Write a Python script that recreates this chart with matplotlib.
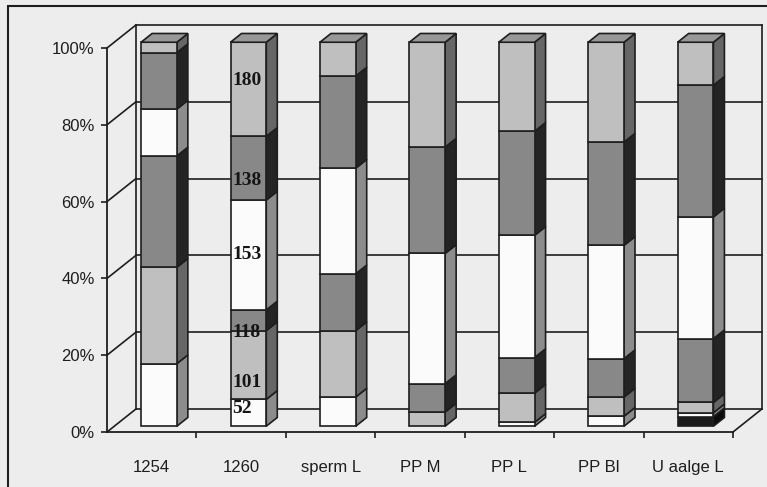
import matplotlib.pyplot as plt
from matplotlib.patches import Polygon, Rectangle

# categories and stacked percentages (bottom -> top)
categories = ["1254", "1260", "sperm L", "PP M", "PP L", "PP Bl", "U aalge L"]
s_black = [0, 0, 0, 0, 0, 0, 2.5]
s52 = [16.3, 7.0, 7.6, 0, 1.0, 2.6, 1.0]
s101 = [25.1, 17.9, 17.3, 3.7, 7.6, 5.0, 2.7]
s118 = [29.0, 5.4, 14.8, 7.4, 9.3, 10.0, 16.6]
s153 = [12.2, 28.6, 27.5, 33.9, 31.8, 29.5, 31.7]
s138 = [14.7, 16.6, 24.0, 27.7, 27.1, 26.9, 34.3]
s180 = [2.7, 24.5, 8.8, 27.3, 23.2, 26.0, 11.2]
series = [s_black, s52, s101, s118, s153, s138, s180]

# labels written on the 1260 bar
lab_text = ["52", "101", "118", "153", "138", "180"]
lab_y = [4.5, 11.5, 24.5, 44.6, 64.0, 90.0]

front_col = ['#1c1c1c', '#fbfbfb', '#bfbfbf', '#888888', '#fbfbfb', '#888888', '#bfbfbf']
side_col = ['#0c0c0c', '#8c8c8c', '#666666', '#242424', '#8c8c8c', '#242424', '#666666']
top_col = '#989898'
bg = '#ededed'
ink = '#1e1e1e'

# oblique depth (in data units) and bar placement in depth
DX, DY = 0.324, 6.0
D0, D1 = 0.25, 0.63
W = 0.40


def proj(x, y, d):
    return (x + d * DX, y + d * DY)


fig = plt.figure(figsize=(7.67, 4.87), dpi=100, facecolor=bg)
ax = fig.add_axes([107 / 767, 55 / 487, 626 / 767, 384 / 487])
ax.set_xlim(-0.5, 6.5)
ax.set_ylim(0, 100)
ax.patch.set_visible(False)
for s in ['top', 'right']:
    ax.spines[s].set_visible(False)
for s in ['left', 'bottom']:
    ax.spines[s].set_color(ink)
    ax.spines[s].set_linewidth(1.3)

# walls, floor and gridlines
n = len(categories)
x0, x1 = -0.5, n - 0.5
for g in range(0, 101, 20):
    a, b = proj(x0, g, 0), proj(x0, g, 1)
    ax.plot([a[0], b[0]], [a[1], b[1]], color=ink, lw=1.2, clip_on=False, zorder=1)
    a, b = proj(x0, g, 1), proj(x1, g, 1)
    ax.plot([a[0], b[0]], [a[1], b[1]], color=ink, lw=1.2, clip_on=False, zorder=1)
for xe in [x0, x1]:
    a, b = proj(xe, 0, 1), proj(xe, 100, 1)
    ax.plot([a[0], b[0]], [a[1], b[1]], color=ink, lw=1.2, clip_on=False, zorder=1)
a, b = proj(x1, 0, 0), proj(x1, 0, 1)
ax.plot([a[0], b[0]], [a[1], b[1]], color=ink, lw=1.2, clip_on=False, zorder=1)

# stacked 3D bars
for i in range(n):
    bottom = 0
    for k, vals in enumerate(series):
        v = vals[i]
        if v <= 0:
            continue
        top = bottom + v
        xl, xr = i - W / 2, i + W / 2
        front = [proj(xl, bottom, D0), proj(xr, bottom, D0), proj(xr, top, D0), proj(xl, top, D0)]
        side = [proj(xr, bottom, D0), proj(xr, bottom, D1), proj(xr, top, D1), proj(xr, top, D0)]
        ax.add_patch(Polygon(side, closed=True, fc=side_col[k], ec=ink, lw=1.2,
                             clip_on=False, zorder=3))
        ax.add_patch(Polygon(front, closed=True, fc=front_col[k], ec=ink, lw=1.2,
                             clip_on=False, zorder=4))
        bottom = top
    xl, xr = i - W / 2, i + W / 2
    lid = [proj(xl, bottom, D0), proj(xr, bottom, D0), proj(xr, bottom, D1), proj(xl, bottom, D1)]
    ax.add_patch(Polygon(lid, closed=True, fc=top_col, ec=ink, lw=1.2, clip_on=False, zorder=4))

# value labels on the 1260 bar
bi = categories.index("1260")
for t, yv in zip(lab_text, lab_y):
    px, py = proj(bi - W / 2 + 0.02, yv, D0)
    ax.text(px, py, t, ha='left', va='center', fontsize=14, fontweight='bold',
            family='Liberation Serif', color='#151515', zorder=5)

# axes ticks and labels
ax.set_yticks(range(0, 101, 20))
ax.set_yticklabels([f"{g}%" for g in range(0, 101, 20)], fontsize=12,
                   family='Liberation Sans', color=ink)
ax.tick_params(axis='y', direction='out', length=4, width=1.2, pad=5, color=ink)
ax.set_xticks([i + 0.5 for i in range(n)])
ax.set_xticklabels([])
ax.tick_params(axis='x', direction='out', length=4, width=1.2, color=ink)
ax.set_xticks(range(n), minor=True)
ax.set_xticklabels(categories, minor=True, fontsize=12, family='Liberation Sans', color=ink)
ax.tick_params(axis='x', which='minor', length=0, pad=20)

# outer chart frame (cut by the scan on right and bottom)
fig.add_artist(Rectangle((8 / 767, -0.05), 1.1, 1.05 - 6 / 487, transform=fig.transFigure,
                         fill=False, ec=ink, lw=1.5))

fig.savefig('out.png', dpi=100, facecolor=bg)
